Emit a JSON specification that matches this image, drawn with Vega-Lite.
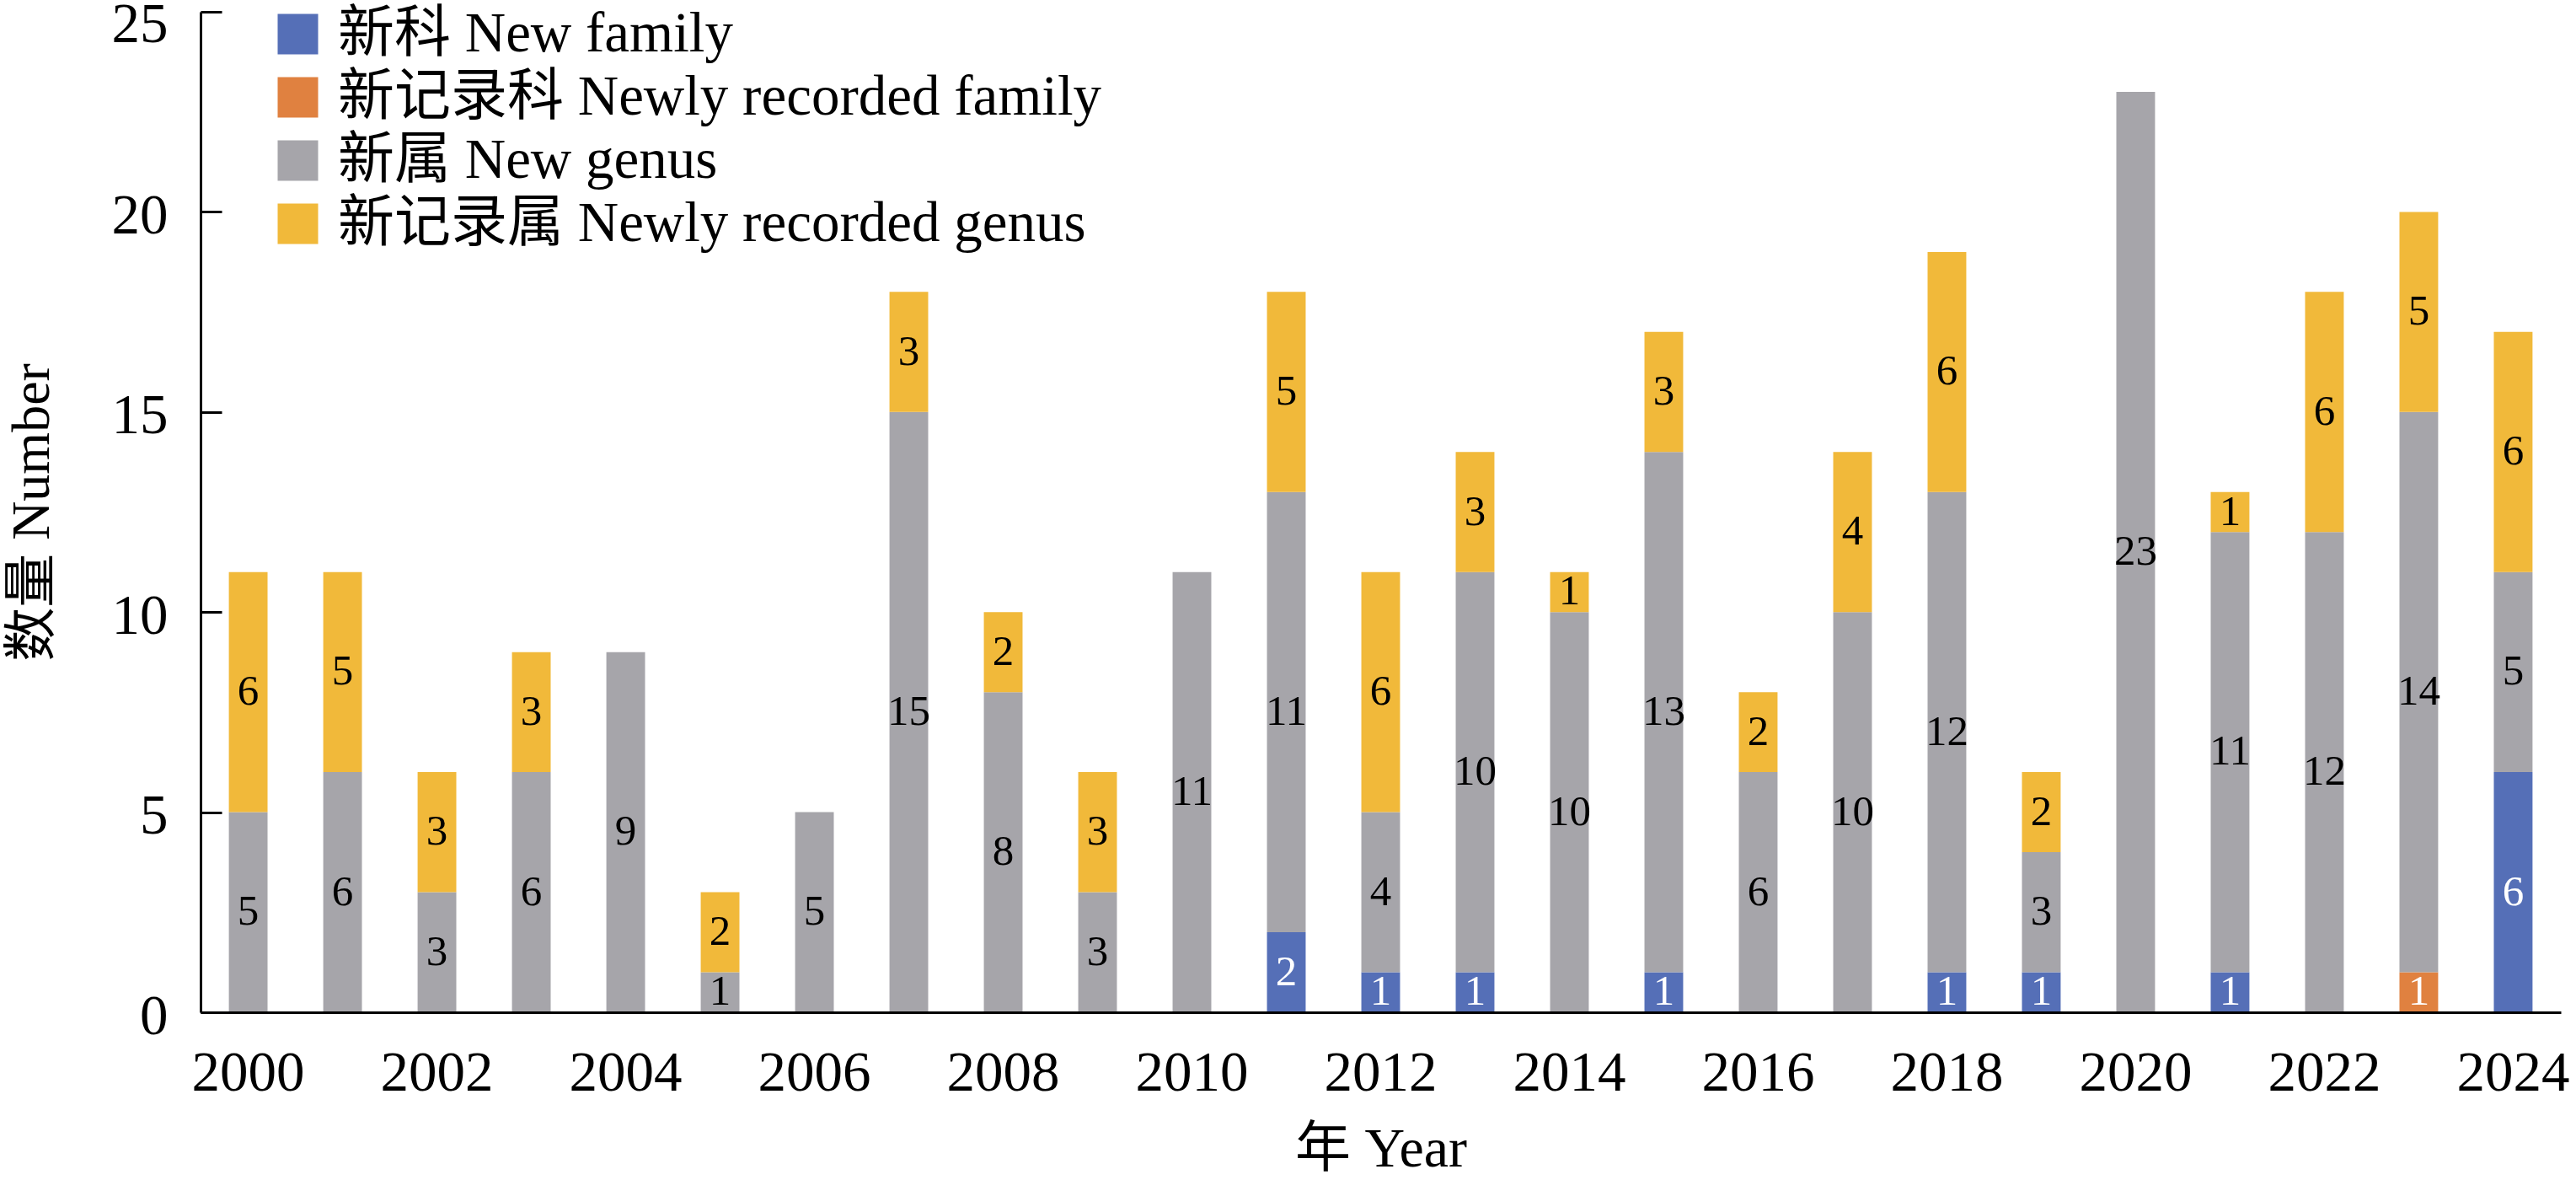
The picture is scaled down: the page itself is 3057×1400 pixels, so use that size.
{
  "$schema": "https://vega.github.io/schema/vega-lite/v6.json",
  "width": 2801,
  "height": 1187,
  "autosize": {"type": "none"},
  "padding": {"left": 238, "top": 14, "right": 18, "bottom": 199},
  "background": "white",
  "config": {"view": {"stroke": null}, "font": "Liberation Serif, Noto Sans CJK SC"},
  "data": {
    "values": [
      {"year": 2000, "cat": "新属 New genus", "rank": 3, "n": 5},
      {"year": 2000, "cat": "新记录属 Newly recorded genus", "rank": 4, "n": 6},
      {"year": 2001, "cat": "新属 New genus", "rank": 3, "n": 6},
      {"year": 2001, "cat": "新记录属 Newly recorded genus", "rank": 4, "n": 5},
      {"year": 2002, "cat": "新属 New genus", "rank": 3, "n": 3},
      {"year": 2002, "cat": "新记录属 Newly recorded genus", "rank": 4, "n": 3},
      {"year": 2003, "cat": "新属 New genus", "rank": 3, "n": 6},
      {"year": 2003, "cat": "新记录属 Newly recorded genus", "rank": 4, "n": 3},
      {"year": 2004, "cat": "新属 New genus", "rank": 3, "n": 9},
      {"year": 2005, "cat": "新属 New genus", "rank": 3, "n": 1},
      {"year": 2005, "cat": "新记录属 Newly recorded genus", "rank": 4, "n": 2},
      {"year": 2006, "cat": "新属 New genus", "rank": 3, "n": 5},
      {"year": 2007, "cat": "新属 New genus", "rank": 3, "n": 15},
      {"year": 2007, "cat": "新记录属 Newly recorded genus", "rank": 4, "n": 3},
      {"year": 2008, "cat": "新属 New genus", "rank": 3, "n": 8},
      {"year": 2008, "cat": "新记录属 Newly recorded genus", "rank": 4, "n": 2},
      {"year": 2009, "cat": "新属 New genus", "rank": 3, "n": 3},
      {"year": 2009, "cat": "新记录属 Newly recorded genus", "rank": 4, "n": 3},
      {"year": 2010, "cat": "新属 New genus", "rank": 3, "n": 11},
      {"year": 2011, "cat": "新科 New family", "rank": 1, "n": 2},
      {"year": 2011, "cat": "新属 New genus", "rank": 3, "n": 11},
      {"year": 2011, "cat": "新记录属 Newly recorded genus", "rank": 4, "n": 5},
      {"year": 2012, "cat": "新科 New family", "rank": 1, "n": 1},
      {"year": 2012, "cat": "新属 New genus", "rank": 3, "n": 4},
      {"year": 2012, "cat": "新记录属 Newly recorded genus", "rank": 4, "n": 6},
      {"year": 2013, "cat": "新科 New family", "rank": 1, "n": 1},
      {"year": 2013, "cat": "新属 New genus", "rank": 3, "n": 10},
      {"year": 2013, "cat": "新记录属 Newly recorded genus", "rank": 4, "n": 3},
      {"year": 2014, "cat": "新属 New genus", "rank": 3, "n": 10},
      {"year": 2014, "cat": "新记录属 Newly recorded genus", "rank": 4, "n": 1},
      {"year": 2015, "cat": "新科 New family", "rank": 1, "n": 1},
      {"year": 2015, "cat": "新属 New genus", "rank": 3, "n": 13},
      {"year": 2015, "cat": "新记录属 Newly recorded genus", "rank": 4, "n": 3},
      {"year": 2016, "cat": "新属 New genus", "rank": 3, "n": 6},
      {"year": 2016, "cat": "新记录属 Newly recorded genus", "rank": 4, "n": 2},
      {"year": 2017, "cat": "新属 New genus", "rank": 3, "n": 10},
      {"year": 2017, "cat": "新记录属 Newly recorded genus", "rank": 4, "n": 4},
      {"year": 2018, "cat": "新科 New family", "rank": 1, "n": 1},
      {"year": 2018, "cat": "新属 New genus", "rank": 3, "n": 12},
      {"year": 2018, "cat": "新记录属 Newly recorded genus", "rank": 4, "n": 6},
      {"year": 2019, "cat": "新科 New family", "rank": 1, "n": 1},
      {"year": 2019, "cat": "新属 New genus", "rank": 3, "n": 3},
      {"year": 2019, "cat": "新记录属 Newly recorded genus", "rank": 4, "n": 2},
      {"year": 2020, "cat": "新属 New genus", "rank": 3, "n": 23},
      {"year": 2021, "cat": "新科 New family", "rank": 1, "n": 1},
      {"year": 2021, "cat": "新属 New genus", "rank": 3, "n": 11},
      {"year": 2021, "cat": "新记录属 Newly recorded genus", "rank": 4, "n": 1},
      {"year": 2022, "cat": "新属 New genus", "rank": 3, "n": 12},
      {"year": 2022, "cat": "新记录属 Newly recorded genus", "rank": 4, "n": 6},
      {"year": 2023, "cat": "新记录科 Newly recorded family", "rank": 2, "n": 1},
      {"year": 2023, "cat": "新属 New genus", "rank": 3, "n": 14},
      {"year": 2023, "cat": "新记录属 Newly recorded genus", "rank": 4, "n": 5},
      {"year": 2024, "cat": "新科 New family", "rank": 1, "n": 6},
      {"year": 2024, "cat": "新属 New genus", "rank": 3, "n": 5},
      {"year": 2024, "cat": "新记录属 Newly recorded genus", "rank": 4, "n": 6}
    ]
  },
  "encoding": {
    "x": {
      "field": "year",
      "type": "ordinal",
      "scale": {"paddingInner": 0.59, "paddingOuter": 0.3},
      "axis": {
        "values": [2000, 2002, 2004, 2006, 2008, 2010, 2012, 2014, 2016, 2018, 2020, 2022, 2024],
        "labelAngle": 0,
        "ticks": false,
        "tickSize": 0,
        "domain": true,
        "domainColor": "black",
        "domainWidth": 3,
        "grid": false,
        "labelFont": "Liberation Serif",
        "labelFontSize": 67,
        "labelColor": "black",
        "labelPadding": 39,
        "labelOverlap": false,
        "title": "年 Year",
        "titleFont": "Liberation Serif, Noto Sans CJK SC",
        "titleFontSize": 66,
        "titleFontWeight": "normal",
        "titleColor": "black",
        "titlePadding": 25,
        "zindex": 1
      }
    },
    "order": {"field": "rank", "type": "quantitative", "sort": "ascending"}
  },
  "layer": [
    {
      "mark": {"type": "bar"},
      "encoding": {
        "y": {
          "field": "n",
          "type": "quantitative",
          "stack": "zero",
          "title": "数量 Number",
          "scale": {"domain": [0, 25], "nice": false},
          "axis": {
            "values": [0, 5, 10, 15, 20, 25],
            "domain": true,
            "domainColor": "black",
            "domainWidth": 3,
            "ticks": true,
            "tickSize": -25,
            "tickWidth": 3,
            "tickColor": "black",
            "grid": false,
            "labelFont": "Liberation Serif",
            "labelFontSize": 67,
            "labelColor": "black",
            "labelPadding": 64,
            "labelFlush": false,
            "labelOverlap": false,
            "labelOffset": {"condition": {"test": "datum.value == 25", "value": 15}, "value": 5},
            "titleFont": "Liberation Serif, Noto Sans CJK SC",
            "titleFontSize": 64,
            "titleFontWeight": "normal",
            "titleColor": "black",
            "titlePadding": 62,
            "zindex": 1
          }
        },
        "color": {
          "field": "cat",
          "type": "nominal",
          "scale": {
            "domain": ["新科 New family", "新记录科 Newly recorded family", "新属 New genus", "新记录属 Newly recorded genus"],
            "range": ["#556FB7", "#E08140", "#A6A5AA", "#F1B93A"]
          },
          "legend": {
            "title": null,
            "orient": "none",
            "legendX": 82,
            "legendY": -7,
            "padding": 0,
            "symbolType": "square",
            "symbolSize": 2304,
            "symbolStrokeWidth": 0,
            "symbolOpacity": 1,
            "labelFont": "Liberation Serif, Noto Sans CJK SC",
            "labelFontSize": 67,
            "labelColor": "black",
            "labelOffset": 14,
            "labelLimit": 3000,
            "rowPadding": 7
          }
        }
      }
    },
    {
      "mark": {"type": "text", "font": "Liberation Serif", "fontSize": 51, "baseline": "middle", "align": "center"},
      "encoding": {
        "y": {"field": "n", "type": "quantitative", "stack": "zero", "bandPosition": 0.5, "title": "数量 Number"},
        "detail": {"field": "cat", "type": "nominal"},
        "text": {"field": "n", "type": "quantitative"},
        "color": {"condition": {"test": "datum.rank <= 2", "value": "white"}, "value": "black"}
      }
    }
  ]
}
